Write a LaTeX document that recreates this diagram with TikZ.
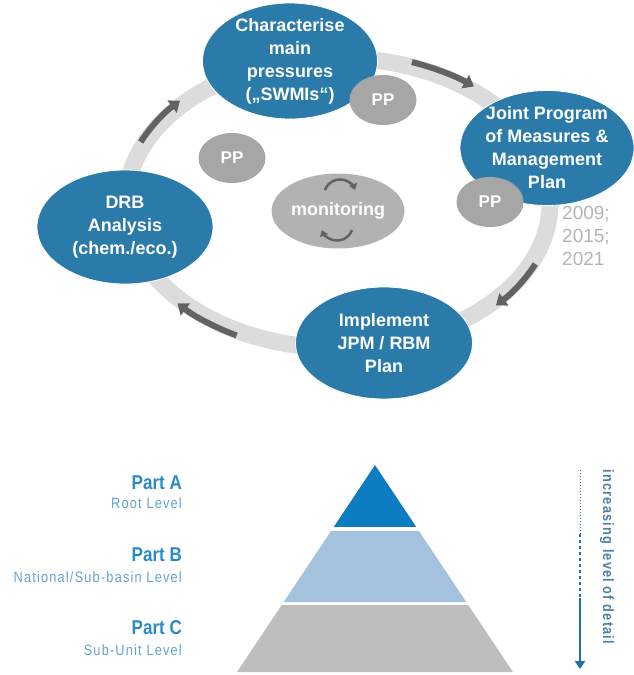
\documentclass[tikz,border=0pt]{standalone}
\usepackage{fontspec}
\setmainfont{Liberation Sans}
\newfontfamily\narrowfont[FakeStretch=0.85]{Liberation Sans}
\newfontfamily\spacedfont[FakeStretch=0.85,LetterSpace=8]{Liberation Sans}
\usetikzlibrary{shapes.geometric,arrows.meta}

\definecolor{basinblue}{HTML}{2B7BAA}
\definecolor{ppgray}{HTML}{A6A6A6}
\definecolor{mongray}{HTML}{B2B2B2}
\definecolor{ringgray}{HTML}{DCDCDC}
\definecolor{arrowgray}{HTML}{626262}
\definecolor{yeargray}{HTML}{B4B4B4}
\definecolor{topblue}{HTML}{0D7DC1}
\definecolor{midblue}{HTML}{A4C2DE}
\definecolor{lowgray}{HTML}{BEBEBE}
\definecolor{labelblue}{HTML}{2A8AC4}
\definecolor{sublabelblue}{HTML}{62A3D0}
\definecolor{detailblue}{HTML}{1A72AD}
\definecolor{detailgray}{HTML}{4F7FA6}

\begin{document}
\begin{tikzpicture}[x=1pt,y=1pt,
    ringband/.style={ringgray,line width=17pt},
    ringarrow/.style={arrowgray,line width=6pt,-{Triangle[width=15pt,length=10pt]}},
    stage/.style={ellipse,fill=basinblue,draw=white,line width=0.8pt,text=white,
        inner sep=-4pt,align=center,font=\fontsize{18}{23}\selectfont\bfseries},
    pp/.style={ellipse,fill=ppgray,text=white,minimum width=67,minimum height=50,
        inner sep=0pt,font=\fontsize{17}{20}\selectfont\bfseries},
    monitor/.style={ellipse,fill=mongray,text=white,minimum width=131,minimum height=75,
        inner sep=0pt,font=\fontsize{18}{20}\selectfont\bfseries},
    monarrow/.style={arrowgray,line width=2.5pt,-{Triangle[width=8pt,length=6pt]}},
    years/.style={text=yeargray,align=left,inner sep=0pt,font=\fontsize{19}{23}\selectfont},
    parthead/.style={anchor=east,text=labelblue,inner sep=0pt,font=\narrowfont\fontsize{20}{22}\selectfont\bfseries},
    partsub/.style={anchor=east,text=sublabelblue,inner sep=0pt,font=\spacedfont\fontsize{15}{17}\selectfont},
    detail/.style={detailblue,line width=2pt}]
\useasboundingbox (0,0) rectangle (633,-675);

% planning cycle
\coordinate (ring) at (338,-203);
\draw[ringband] (ring) ellipse [x radius=212,y radius=145];
\foreach \from/\to in {156/137,70/51,-24/-43,-118/-138}
    \draw[ringarrow] (ring) ++(\from:216 and 150)
        arc[start angle=\from,end angle=\to,x radius=216,y radius=150];

\node[stage,minimum width=175,minimum height=116] (char) at (290,-61)
    {Characterise\\main\\pressures\\(„SWMIs“)};
\node[stage,minimum width=174,minimum height=115] (jpm) at (547,-148)
    {Joint Program\\of Measures \&\\Management\\Plan};
\node[stage,minimum width=177,minimum height=112] (impl) at (384,-343)
    {Implement\\JPM / RBM\\Plan};
\node[stage,minimum width=176,minimum height=114] (drb) at (125,-227)
    {DRB\\Analysis\\(chem./eco.)};

\node[pp] (pptop) at (383,-100) {PP};
\node[pp] (ppleft) at (232,-158) {PP};
\node[pp] (ppright) at (490,-202) {PP};

\node[monitor] (mon) at (338,-211) {monitoring};
\draw[monarrow] ([shift={(-13,21)}]mon.center) arc[start angle=160,end angle=20,radius=16];
\draw[monarrow] ([shift={(14,-19)}]mon.center) arc[start angle=-20,end angle=-160,radius=16];

\node[years,anchor=north west] (years) at (562,-206) {2009;\\2015;\\2021};

% levels pyramid
\coordinate (apex) at (375,-465);
\coordinate (baseleft) at (237,-672);
\coordinate (baseright) at (513,-672);
\begin{scope}
    \clip (apex) -- (baseleft) -- (baseright) -- cycle;
    \fill[topblue] (230,-460) rectangle (520,-527);
    \fill[midblue] (230,-531) rectangle (520,-602);
    \fill[lowgray] (230,-605) rectangle (520,-675);
\end{scope}

\node[parthead] (parta) at (182,-483) {Part A};
\node[partsub] (roota) at (182,-503) {Root Level};
\node[parthead] (partb) at (182,-555) {Part B};
\node[partsub] (rootb) at (182,-577) {National/Sub-basin Level};
\node[parthead] (partc) at (182,-628) {Part C};
\node[partsub] (rootc) at (182,-650) {Sub-Unit Level};

\coordinate (dtop) at (580,-470);
\coordinate (ddot) at (580,-534);
\coordinate (ddash) at (580,-598);
\coordinate (dtip) at (580,-669);
\draw[detail,line width=1pt,dotted] (dtop) -- (ddot);
\draw[detail,dash pattern=on 3pt off 3pt] (ddot) -- (ddash);
\draw[detail,line width=2.5pt,-{Triangle[width=10pt,length=8pt]}] (ddash) -- (dtip);
\node[rotate=-90,text=detailgray,font=\spacedfont\fontsize{15}{17}\selectfont\bfseries]
    (detailtext) at (607,-557) {increasing level of detail};
\end{tikzpicture}
\end{document}
